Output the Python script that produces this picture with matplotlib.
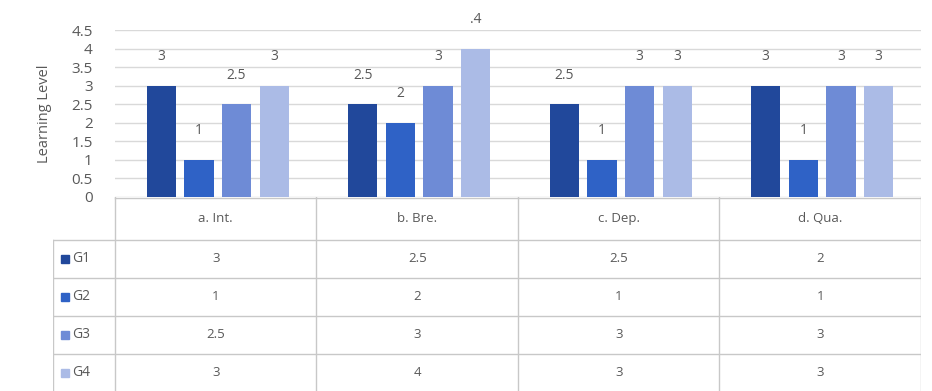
import matplotlib.pyplot as plt
import numpy as np

categories = ['a. Int.', 'b. Bre.', 'c. Dep.', 'd. Qua.']
groups = ['G1', 'G2', 'G3', 'G4']
g1 = [3, 2.5, 2.5, 3]
g2 = [1, 2, 1, 1]
g3 = [2.5, 3, 3, 3]
g4 = [3, 4, 3, 3]
# bar labels as printed on the chart
g1_labels = ['3', '2.5', '2.5', '3']
g2_labels = ['1', '2', '1', '1']
g3_labels = ['2.5', '3', '3', '3']
g4_labels = ['3', '.4', '3', '3']
# data table text as printed under the chart
table_g1 = ['3', '2.5', '2.5', '2']
table_g2 = ['1', '2', '1', '1']
table_g3 = ['2.5', '3', '3', '3']
table_g4 = ['3', '4', '3', '3']
yticks = [0, 0.5, 1, 1.5, 2, 2.5, 3, 3.5, 4, 4.5]

colors = ['#21489b', '#2f62c6', '#6e8bd6', '#abbbe6']
text_color = '#595959'
grid_color = '#d9d9d9'

plt.rcParams['font.family'] = ['Open Sans', 'DejaVu Sans']

W, H = 932, 391
fig = plt.figure(figsize=(W / 100, H / 100), dpi=100)

# bar chart area
x0, x1 = 115, 921
y_top, y_base = 30, 197
ax = fig.add_axes([x0 / W, 1 - y_base / H, (x1 - x0) / W, (y_base - y_top) / H])
x = np.arange(len(categories))
step = 0.187
width = 0.145
series = [g1, g2, g3, g4]
labels = [g1_labels, g2_labels, g3_labels, g4_labels]
for i, (vals, labs, c) in enumerate(zip(series, labels, colors)):
    pos = x + (i - 1.5) * step + 0.01
    ax.bar(pos, vals, width=width, color=c, zorder=3)
    for p, v, t in zip(pos, vals, labs):
        ax.annotate(t, (p, v), xytext=(0, 15.5), textcoords='offset points',
                    ha='center', va='bottom', fontsize=10, color=text_color)

ax.set_xlim(-0.5, len(categories) - 0.5)
ax.set_ylim(0, 4.5)
ax.set_yticks(yticks)
ax.set_yticklabels([f'{t:g}' for t in yticks], fontsize=11, color=text_color)
ax.tick_params(axis='y', length=0, pad=16)
ax.set_xticks([])
ax.yaxis.grid(True, color=grid_color, lw=1, zorder=0)
for s in ax.spines.values():
    s.set_visible(False)
ax.set_ylabel('Learning Level', fontsize=10.5, color=text_color, labelpad=14)

# data table
tx0 = 53
leg_w = (x0 - tx0) / (x1 - x0) * len(categories)
tax = fig.add_axes([tx0 / W, 0, (x1 - tx0) / W, 1 - y_base / H])
tax.set_xlim(-0.5 - leg_w, len(categories) - 0.5)
tax.set_ylim(194, 0)
tax.axis('off')
line_c = '#c8c8c8'
header_h = 43
row_h = 38
rows = [table_g1, table_g2, table_g3, table_g4]
# horizontal lines
tax.plot([-0.5, len(categories) - 0.5], [0.5, 0.5], color=line_c, lw=1)
for r in range(len(rows) + 1):
    yy = header_h + r * row_h
    tax.plot([-0.5 - leg_w, len(categories) - 0.5], [yy, yy], color=line_c, lw=1)
# vertical lines
for k in range(len(categories) + 1):
    xx = k - 0.5
    tax.plot([xx, xx], [0, header_h + len(rows) * row_h], color=line_c, lw=1)
tax.plot([-0.5 - leg_w] * 2, [header_h, header_h + len(rows) * row_h], color=line_c, lw=1)

for k, cat in enumerate(categories):
    tax.text(k, header_h / 2, cat, ha='center', va='center', fontsize=9.5, color=text_color)
for r, (g, vals, c) in enumerate(zip(groups, rows, colors)):
    yc = header_h + (r + 0.5) * row_h
    for k, t in enumerate(vals):
        tax.text(k, yc, t, ha='center', va='center', fontsize=9.5, color=text_color)
    tax.text(-0.5 - leg_w + 0.095, yc, g, ha='left', va='center', fontsize=10, color=text_color)
    tax.plot(-0.5 - leg_w + 0.06, yc, marker='s', ms=6, color=c, ls='none')

fig.savefig('out.png', dpi=100)
